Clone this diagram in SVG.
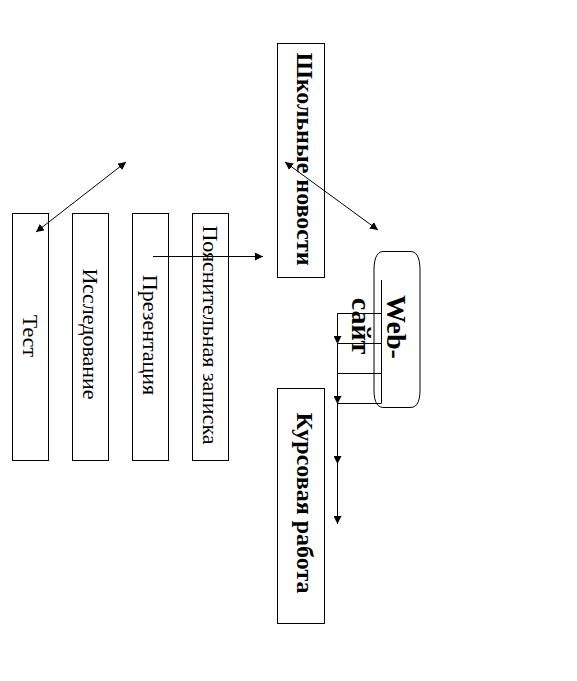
<svg xmlns="http://www.w3.org/2000/svg" width="577" height="681" viewBox="0 0 577 681">
<style>
.box{fill:#fff;stroke:#000;stroke-width:1}
.reg{font-family:"Liberation Serif","Times New Roman",serif;font-size:22px;fill:#000}
.bold{font-family:"Liberation Serif","Times New Roman",serif;font-size:24px;font-weight:bold;fill:#000}
.web{font-family:"Liberation Serif","Times New Roman",serif;font-size:28px;font-weight:bold;fill:#000}
.ln{fill:none;stroke:#000;stroke-width:1}
</style>
<defs>
<marker id="ah" viewBox="0 0 10 10" refX="10" refY="5" markerUnits="userSpaceOnUse" markerWidth="8" markerHeight="8" orient="auto-start-reverse">
<path d="M0,0 L10,5 L0,10 Z" fill="#000"/>
</marker>
</defs>
<rect width="577" height="681" fill="#fff"/>
<g id="test">
<rect class="box" x="12.5" y="213.5" width="36" height="247"/>
<text class="reg" transform="translate(23,336) rotate(90)" text-anchor="middle">Тест</text>
</g>
<g id="issledovanie">
<rect class="box" x="72.5" y="213.5" width="36" height="247"/>
<text class="reg" transform="translate(83,334) rotate(90)" text-anchor="middle">Исследование</text>
</g>
<g id="prezentaciya">
<rect class="box" x="132.5" y="213.5" width="36" height="247"/>
<text class="reg" transform="translate(143,335) rotate(90)" text-anchor="middle">Презентация</text>
</g>
<g id="zapiska">
<rect class="box" x="192.5" y="213.5" width="36" height="247"/>
<text class="reg" transform="translate(203,335) rotate(90)" text-anchor="middle">Пояснительная записка</text>
</g>
<g id="novosti">
<rect class="box" x="277.5" y="43.5" width="47" height="234"/>
<text class="bold" transform="translate(297,159) rotate(90)" text-anchor="middle">Школьные новости</text>
</g>
<g id="kursovaya">
<rect class="box" x="277.5" y="388.5" width="47" height="235"/>
<text class="bold" transform="translate(297,503) rotate(90)" text-anchor="middle">Курсовая работа</text>
</g>
<g id="website">
<path class="ln" d="M383,251.5 H411 C418,252 420.5,260 420,275 V385 C420.5,400 418,407 411,407.5 H383 C376,407 373.5,400 374,385 V275 C373.5,260 376,252 383,251.5 Z"/>
<text class="web" transform="translate(387,327) rotate(90)" text-anchor="middle">Web-</text>
<text class="web" transform="translate(352,326) rotate(90)" text-anchor="middle">сайт</text>
</g>
<g id="connectors">
<line class="ln" x1="36" y1="232" x2="126" y2="162" marker-start="url(#ah)" marker-end="url(#ah)"/>
<line class="ln" x1="285" y1="162" x2="378" y2="230" marker-start="url(#ah)" marker-end="url(#ah)"/>
<path class="ln" d="M153,256.5 H263" marker-end="url(#ah)"/>
<line class="ln" x1="381.5" y1="280" x2="381.5" y2="403"/>
<path class="ln" d="M381.5,313.5 H337.5 V344" marker-end="url(#ah)"/>
<path class="ln" d="M381.5,343.5 H337.5 V404" marker-end="url(#ah)"/>
<path class="ln" d="M381.5,373.5 H337.5 V464" marker-end="url(#ah)"/>
<path class="ln" d="M381.5,403.5 H337.5 V524" marker-end="url(#ah)"/>
</g>
</svg>
